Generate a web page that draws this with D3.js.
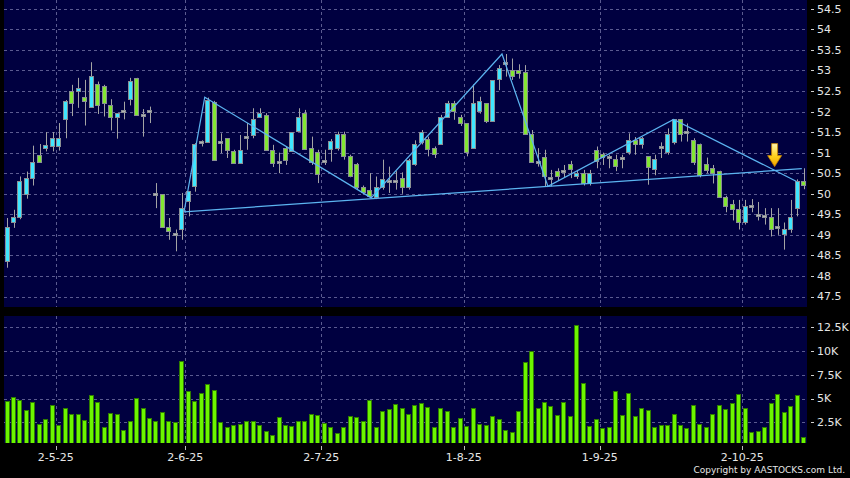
<!DOCTYPE html>
<html>
<head>
<meta charset="utf-8">
<script src="https://cdn.jsdelivr.net/npm/d3@7"></script>
<style>
html, body { margin: 0; padding: 0; background: #000; }
svg { display: block; }
text { font-family: "DejaVu Sans", sans-serif; }
</style>
</head>
<body>
<svg id="chart" width="850" height="478"></svg>
<script>
// daily OHLC, oldest first
const opens = [48.36,49.30,49.41,49.98,50.36,50.92,51.10,51.15,51.15,51.81,52.49,52.49,52.35,52.10,52.67,52.62,52.15,51.86,52.01,52.30,52.81,51.91,52.01,
  49.99,49.98,49.17,49.00,49.13,49.81,50.18,51.24,51.25,52.22,51.24,51.35,51.02,50.73,51.37,51.41,51.86,51.90,51.05,50.75,51.11,51.03,51.51,51.96,51.09,51.00,
  50.78,51.07,51.11,51.45,50.91,50.72,50.15,50.07,49.91,50.15,50.30,50.30,50.36,50.15,50.72,51.25,51.31,51.11,51.21,51.86,52.20,51.85,51.72,51.11,52.01,52.20,
  51.77,52.77,53.17,53.00,53.00,52.95,51.45,50.77,50.87,50.36,50.54,50.55,50.72,50.41,50.50,50.26,51.05,50.95,50.87,50.84,50.85,51.01,51.29,51.21,50.91,50.60,
  51.13,51.01,51.25,51.81,51.50,51.29,51.21,50.72,50.61,50.54,49.92,49.75,49.61,49.29,49.70,49.46,49.45,49.43,49.19,49.00,49.14,49.65,50.30];
const highs = [49.41,49.61,50.42,50.54,51.17,51.21,51.50,51.50,51.72,52.28,52.65,52.82,52.77,53.20,52.73,52.65,52.30,51.96,52.24,52.82,52.82,52.06,52.12,
  50.26,49.98,49.41,49.13,50.02,50.06,51.23,51.30,52.34,52.26,51.47,51.35,51.07,51.43,51.72,52.08,52.08,51.96,51.19,51.00,51.15,51.50,52.08,52.04,51.39,51.07,
  51.07,51.33,51.51,51.51,50.95,50.75,50.20,50.50,50.42,50.83,50.66,50.55,50.52,50.85,51.30,51.55,51.39,51.15,51.92,52.26,52.26,51.92,51.72,52.66,52.36,52.20,
  52.75,53.13,53.40,53.29,53.15,53.13,51.55,51.11,51.07,50.58,50.62,50.70,50.80,50.58,50.58,50.58,51.15,51.00,50.95,50.95,50.95,51.47,51.38,51.38,50.91,50.95,
  51.25,51.59,51.81,51.81,51.71,51.35,51.22,50.88,50.70,50.56,49.95,49.85,49.85,49.85,49.87,49.80,49.65,49.65,49.65,49.30,49.85,50.35,50.62];
const lows = [48.20,49.17,49.38,49.88,50.20,50.77,51.03,51.03,51.05,51.35,51.89,52.09,51.66,52.10,51.94,51.88,51.54,51.34,51.81,52.15,51.91,51.39,51.72,
  49.65,49.17,48.88,48.60,48.88,49.45,50.05,51.15,51.25,50.81,50.99,50.87,50.73,50.73,51.07,51.35,51.86,51.05,50.65,50.50,50.70,51.03,51.51,51.07,50.70,50.26,
  50.70,50.78,51.05,50.83,50.40,50.10,49.98,49.90,49.87,50.10,50.02,50.10,50.00,50.10,50.68,51.20,50.91,50.87,51.21,51.86,51.80,51.65,50.91,51.11,51.95,51.72,
  51.77,52.52,52.85,52.77,52.80,51.45,50.77,50.66,50.18,50.18,50.32,50.40,50.38,50.36,50.20,50.20,50.62,50.70,50.62,50.55,50.62,50.95,50.95,51.10,50.22,50.45,
  50.87,50.95,51.20,51.27,51.27,50.70,50.40,50.50,50.25,49.90,49.55,49.35,49.13,49.25,49.55,49.35,49.25,48.96,49.00,48.64,49.05,49.45,50.11];
const closes = [49.17,49.41,50.31,50.36,50.77,50.77,51.17,51.35,51.35,52.25,52.20,52.57,52.24,52.86,52.15,52.20,51.86,51.96,52.01,52.72,51.91,51.91,52.01,
  49.99,49.17,49.07,49.00,49.65,50.06,51.21,51.24,52.26,50.81,51.24,51.05,50.73,51.05,51.37,51.81,51.96,51.05,50.73,50.75,50.81,51.50,51.86,51.07,50.75,50.46,
  50.78,51.26,51.45,50.91,50.42,50.16,50.02,49.93,50.15,50.34,50.30,50.30,50.15,50.81,51.21,51.50,51.07,50.96,51.86,52.20,52.01,51.72,51.01,52.20,52.24,51.77,
  52.75,53.05,53.17,52.86,52.93,51.45,50.77,50.77,50.42,50.36,50.42,50.55,50.58,50.50,50.26,50.50,50.78,50.87,50.87,50.66,50.85,51.29,51.21,51.35,50.65,50.83,
  51.13,51.45,51.81,51.45,51.50,50.76,50.44,50.56,50.50,49.92,49.68,49.61,49.29,49.69,49.70,49.46,49.45,49.14,49.19,49.14,49.43,50.30,50.20];
// volume in thousands of shares
const volumes = [4.7,5.1,4.8,3.7,4.6,2.3,2.8,4.3,2.2,4.0,3.3,3.3,2.7,5.3,4.6,2.0,3.4,3.3,1.6,2.6,5.0,3.9,2.9,2.6,3.5,2.6,2.5,8.9,5.7,4.7,5.5,6.5,5.8,2.5,2.0,2.2,2.3,2.6,2.6,2.2,1.5,1.1,3.0,
  2.2,2.1,2.6,2.6,3.3,3.2,2.4,2.0,1.3,1.9,3.1,3.0,2.6,4.8,2.0,3.6,3.8,4.4,3.9,3.3,4.3,4.5,4.1,1.9,4.0,3.6,2.0,2.9,2.1,3.9,2.3,2.2,3.1,2.8,1.6,1.4,3.6,8.8,10.0,3.9,4.6,
  4.2,3.2,4.6,3.1,12.7,6.6,2.1,2.8,1.8,2.0,5.7,3.2,5.5,3.1,3.9,3.7,1.9,2.2,2.2,3.3,2.2,1.8,4.3,2.3,2.0,3.3,4.3,3.8,4.5,5.4,4.0,1.4,1.5,2.0,4.5,5.4,3.5,4.2,5.3,0.9];

const dateLabels = ["2-5-25", "2-6-25", "2-7-25", "1-8-25", "1-9-25", "2-10-25"];
const dateIndex = [7, 27, 48, 70, 91, 113];
const priceTicks = [47.5, 48, 48.5, 49, 49.5, 50, 50.5, 51, 51.5, 52, 52.5, 53, 53.5, 54, 54.5];
const volTicks = [2.5, 5, 7.5, 10, 12.5];
const volTickLabels = ["2.5K", "5K", "7.5K", "10K", "12.5K"];

// drawn trend lines: [bar index, price]
const patternLine = [[27.3, 49.56], [30.5, 52.35], [56.2, 49.90], [76.4, 53.40], [83.5, 50.18], [102.9, 51.81], [121.9, 50.30]];
const supportLine = [[27.3, 49.56], [122.7, 50.61]];
const arrowPoint = [118.5, 50.66];

const n = closes.length;
const svg = d3.select("#chart");

const plotL = 4, plotR = 807;
const priceTop = 0, priceBot = 307;
const volTop = 316, volBot = 443;

const x = d3.scaleBand().domain(d3.range(n)).range([plotL, plotR]);
const step = x.step();
const bw = step * 0.84;
const cx = i => x.range()[0] + step * (i + 0.5);   // fractional index -> x

const y = d3.scaleLinear().domain([47.5, 54.5]).range([296.5, 8.8]);
const yv = d3.scaleLinear().domain([0, 12.5]).range([446, 327.3]);

const defs = svg.append("defs");
defs.append("clipPath").attr("id", "volclip")
  .append("rect").attr("x", plotL).attr("y", volTop).attr("width", plotR - plotL).attr("height", volBot - volTop);
const grad = defs.append("linearGradient").attr("id", "arrowgrad")
  .attr("x1", 0).attr("y1", 0).attr("x2", 0).attr("y2", 1);
grad.append("stop").attr("offset", "0%").attr("stop-color", "#fff6b0");
grad.append("stop").attr("offset", "55%").attr("stop-color", "#ffd21a");
grad.append("stop").attr("offset", "100%").attr("stop-color", "#f0a000");

svg.append("rect").attr("width", 850).attr("height", 478).attr("fill", "#000");

// panels
svg.append("rect").attr("x", plotL).attr("y", priceTop).attr("width", plotR - plotL).attr("height", priceBot - priceTop).attr("fill", "#000040");
svg.append("rect").attr("x", plotL).attr("y", volTop).attr("width", plotR - plotL).attr("height", volBot - volTop).attr("fill", "#000040");

const gridColor = "#5b5b90";
const grid = svg.append("g").attr("stroke", gridColor).attr("stroke-dasharray", "3,3").attr("shape-rendering", "crispEdges");

grid.selectAll(".hp").data(priceTicks).enter().append("line")
  .attr("x1", plotL).attr("x2", plotR)
  .attr("y1", d => Math.round(y(d)) + 0.5).attr("y2", d => Math.round(y(d)) + 0.5);
grid.selectAll(".hv").data(volTicks).enter().append("line")
  .attr("x1", plotL).attr("x2", plotR)
  .attr("y1", d => Math.round(yv(d)) + 0.5).attr("y2", d => Math.round(yv(d)) + 0.5);
grid.selectAll(".vp").data(dateIndex).enter().append("line")
  .attr("x1", d => Math.round(x(d) + step) + 0.5).attr("x2", d => Math.round(x(d) + step) + 0.5)
  .attr("y1", priceTop).attr("y2", priceBot);
grid.selectAll(".vv").data(dateIndex).enter().append("line")
  .attr("x1", d => Math.round(x(d) + step) + 0.5).attr("x2", d => Math.round(x(d) + step) + 0.5)
  .attr("y1", volTop).attr("y2", volBot);

// candles
const idx = d3.range(n);
const candles = svg.append("g");
candles.selectAll(".wick").data(idx).enter().append("line")
  .attr("x1", i => Math.round(cx(i)) + 0.5).attr("x2", i => Math.round(cx(i)) + 0.5)
  .attr("y1", i => y(highs[i])).attr("y2", i => y(lows[i]))
  .attr("stroke", "#a4a4a4").attr("stroke-width", 1);

candles.selectAll(".body").data(idx).enter().append("rect")
  .attr("x", i => Math.round(cx(i) - bw / 2) + 0.5)
  .attr("y", i => opens[i] === closes[i] ? y(opens[i]) - 1 : y(Math.max(opens[i], closes[i])))
  .attr("width", Math.round(bw) - 1)
  .attr("height", i => opens[i] === closes[i] ? 2 : Math.max(1, Math.abs(y(opens[i]) - y(closes[i]))))
  .attr("fill", i => closes[i] > opens[i] ? "#3fe6ff" : closes[i] < opens[i] ? "#82e632" : "#b4b4b4")
  .attr("stroke", "#8a8f94").attr("stroke-width", 1)
  .attr("shape-rendering", "crispEdges");

// trend lines
const line = d3.line().x(d => cx(d[0])).y(d => y(d[1]));
svg.append("path").datum(supportLine).attr("d", line)
  .attr("fill", "none").attr("stroke", "#5cb4f0").attr("stroke-width", 1.2);
svg.append("path").datum(patternLine).attr("d", line)
  .attr("fill", "none").attr("stroke", "#5cb4f0").attr("stroke-width", 1.2);

// arrow marker
svg.append("path")
  .attr("transform", `translate(${cx(arrowPoint[0])},${y(arrowPoint[1])})`)
  .attr("d", "M0,0 L-7,-11 L-3,-11 L-3,-23 L3,-23 L3,-11 L7,-11 Z")
  .attr("fill", "url(#arrowgrad)").attr("stroke", "#c88400").attr("stroke-width", 0.8);

// volume bars
svg.append("g").attr("clip-path", "url(#volclip)")
  .selectAll("rect").data(idx).enter().append("rect")
  .attr("x", i => Math.round(cx(i) - bw / 2) + 0.5)
  .attr("y", i => yv(volumes[i]))
  .attr("width", Math.round(bw) - 1)
  .attr("height", i => yv(0) - yv(volumes[i]))
  .attr("fill", "#6cf500").attr("stroke", "#2f7d00").attr("stroke-width", 1)
  .attr("shape-rendering", "crispEdges");

// right axes
const axisText = "#e6e6e6";
const rAx = svg.append("g");
rAx.selectAll(".pt").data(priceTicks).enter().append("line")
  .attr("x1", 811).attr("x2", 814).attr("y1", d => Math.round(y(d)) + 0.5).attr("y2", d => Math.round(y(d)) + 0.5)
  .attr("stroke", "#cfcfcf");
rAx.selectAll(".pl").data(priceTicks).enter().append("text")
  .attr("x", 817).attr("y", d => y(d)).attr("dy", "0.36em")
  .attr("fill", axisText).attr("font-size", 11).text(d => d);
rAx.selectAll(".vt").data(volTicks).enter().append("line")
  .attr("x1", 811).attr("x2", 814).attr("y1", d => Math.round(yv(d)) + 0.5).attr("y2", d => Math.round(yv(d)) + 0.5)
  .attr("stroke", "#cfcfcf");
rAx.selectAll(".vl").data(volTicks).enter().append("text")
  .attr("x", 817).attr("y", d => yv(d)).attr("dy", "0.36em")
  .attr("fill", axisText).attr("font-size", 11).text((d, k) => volTickLabels[k]);

// date axis
const bAx = svg.append("g");
bAx.selectAll("line").data(dateIndex).enter().append("line")
  .attr("x1", d => Math.round(x(d) + step) + 0.5).attr("x2", d => Math.round(x(d) + step) + 0.5)
  .attr("y1", 446).attr("y2", 450).attr("stroke", "#bdbdbd");
bAx.selectAll("text").data(dateIndex).enter().append("text")
  .attr("x", d => x(d) + step).attr("y", 461)
  .attr("text-anchor", "middle").attr("fill", axisText).attr("font-size", 11)
  .text((d, k) => dateLabels[k]);

svg.append("text").attr("x", 845).attr("y", 473).attr("text-anchor", "end")
  .attr("fill", axisText).attr("font-size", 9)
  .text("Copyright by AASTOCKS.com Ltd.");
</script>
</body>
</html>
